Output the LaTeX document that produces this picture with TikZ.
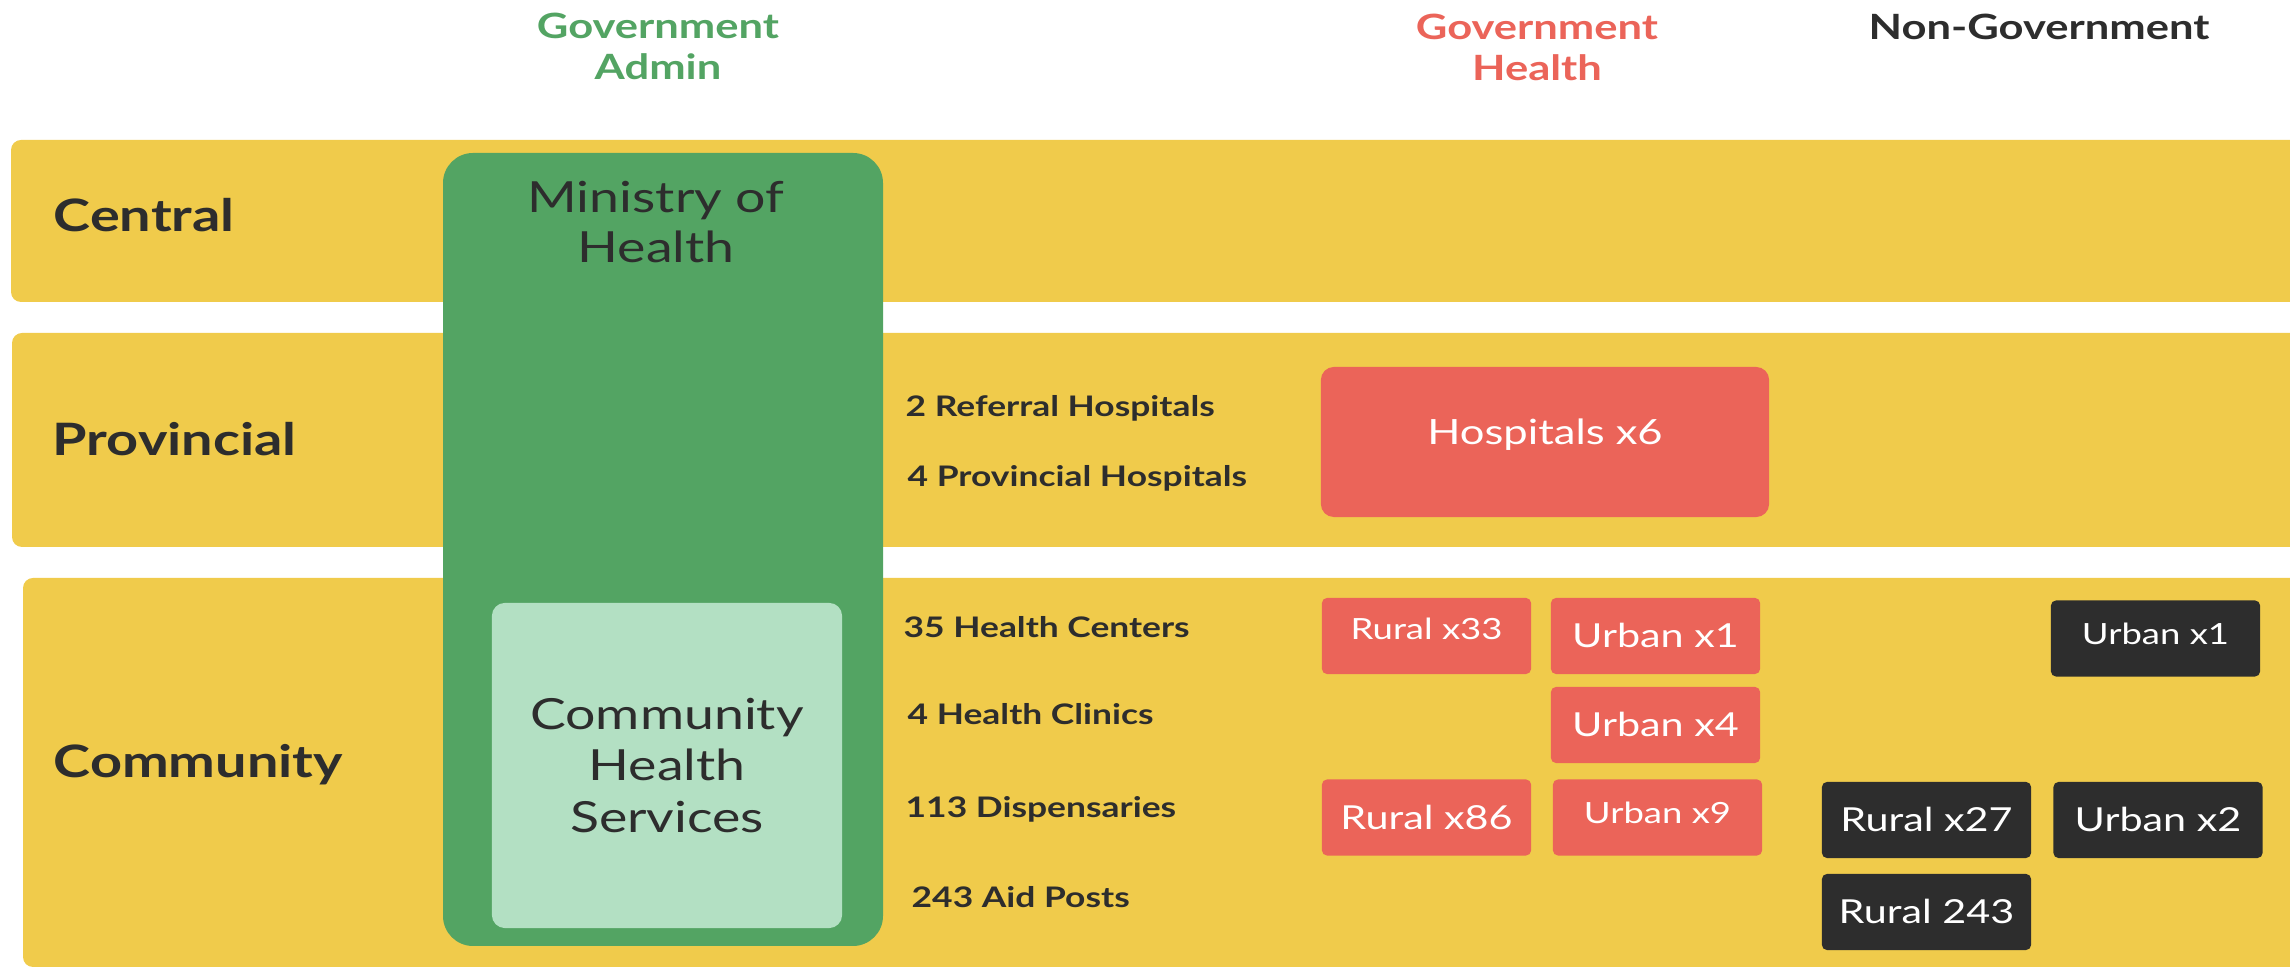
\documentclass[tikz,border=0pt]{standalone}
\usepackage{fontspec}
\setmainfont{Lato}[FakeStretch=1.25]
\usepackage{xcolor}
\definecolor{band}{RGB}{240, 203, 75}
\definecolor{admin}{RGB}{83, 164, 99}
\definecolor{chsfill}{RGB}{179, 224, 195}
\definecolor{health}{RGB}{235, 100, 89}
\definecolor{nongov}{RGB}{45, 45, 45}
\definecolor{ink}{RGB}{45, 45, 45}

\begin{document}
\begin{tikzpicture}[x=0.01cm, y=-0.01cm,
        tierlab/.style={anchor=base west, inner sep=0, text=ink, font=\bfseries\fontsize{12.7}{15}\selectfont},
        rowlab/.style={anchor=base west, inner sep=0, text=ink, font=\bfseries\fontsize{8.05}{9.5}\selectfont},
        head/.style={inner sep=0, align=center, font=\bfseries\fontsize{9.9}{11.7}\selectfont},
        unit/.style={fill=health, text=white, rounded corners=0.05cm, inner sep=0,
            minimum width=2.09cm, minimum height=0.76cm, text depth=0},
        ngounit/.style={unit, fill=nongov},
        small/.style={font=\fontsize{8.3}{10}\selectfont, text height=0.21cm},
        large/.style={font=\fontsize{9.4}{11}\selectfont, text height=0.24cm}]
        \useasboundingbox (0, 0) rectangle (2290, 968);
        \clip (0, 0) rectangle (2290, 968);
        % column heads
        \node[head, text=admin] (govadmin) at (658, 46.5) {Government\\Admin};
        \node[head, text=health] (govhealth) at (1537, 47.5) {Government\\Health};
        \node[head, text=ink, anchor=base] (nongovhead) at (2039, 40) {Non-Government};
        % tiers
        \fill[band, rounded corners=0.1cm] (11, 140) rectangle (2310, 302);
        \fill[band, rounded corners=0.1cm] (12, 333) rectangle (2310, 547);
        \fill[band, rounded corners=0.1cm] (23, 578) rectangle (2310, 967);
        \node[tierlab] (central) at (53, 232) {Central};
        \node[tierlab] (provincial) at (52, 456) {Provincial};
        \node[tierlab] (community) at (53, 778) {Community};
        % government admin
        \fill[admin, rounded corners=0.3cm] (443, 153) rectangle (883, 946);
        \node[align=center, text=ink, font=\fontsize{12.2}{14.4}\selectfont] (moh) at (656, 222) {Ministry of\\Health};
        \node[fill=chsfill, rounded corners=0.13cm, minimum width=3.5cm, minimum height=3.25cm, align=center,
            text=ink, font=\fontsize{12.2}{14.65}\selectfont] (chs) at (667, 765.5) {Community\\Health\\Services};
        % facility counts
        \node[rowlab] (referral) at (905, 417) {2 Referral Hospitals};
        \node[rowlab] (provhosp) at (907, 487) {4 Provincial Hospitals};
        \node[rowlab] (centers) at (903, 638) {35 Health Centers};
        \node[rowlab] (clinics) at (907, 725) {4 Health Clinics};
        \node[rowlab] (dispensaries) at (905, 818) {113 Dispensaries};
        \node[rowlab] (aidposts) at (911, 908) {243 Aid Posts};
        % government health
        \node[unit, rounded corners=0.13cm, minimum width=4.48cm, minimum height=1.5cm,
            font=\fontsize{9.9}{12}\selectfont, text height=0.25cm, text depth=0.2cm] (hospitals) at (1545, 442) {Hospitals x6};
        \node[unit, small, text depth=0.14cm] (rural33) at (1426.5, 636) {Rural x33};
        \node[unit, large] (urban1) at (1655.5, 636) {Urban x1};
        \node[unit, large] (urban4) at (1655.5, 725) {Urban x4};
        \node[unit, large] (rural86) at (1426.5, 817.5) {Rural x86};
        \node[unit, small, text depth=0.09cm] (urban9) at (1657.5, 817.5) {Urban x9};
        % non-government
        \node[ngounit, small, text depth=0.09cm] (ngourban1) at (2155.5, 638.5) {Urban x1};
        \node[ngounit, large] (ngorural27) at (1926.5, 820) {Rural x27};
        \node[ngounit, large] (ngourban2) at (2158, 820) {Urban x2};
        \node[ngounit, large] (ngorural243) at (1926.5, 912) {Rural 243};
    \end{tikzpicture}
\end{document}
